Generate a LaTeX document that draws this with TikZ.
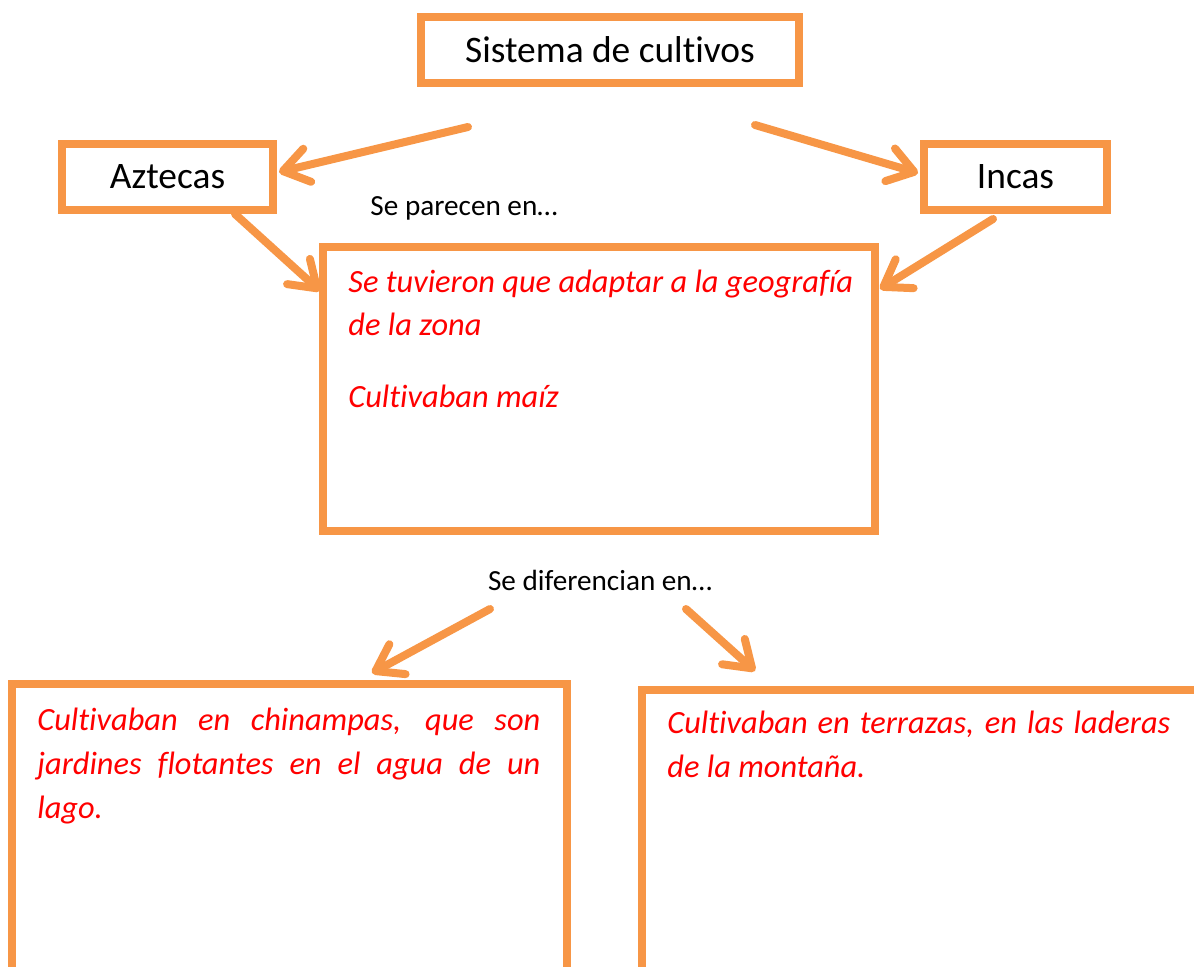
\documentclass[tikz,border=0pt]{standalone}
\usepackage{fontspec}
\setmainfont{Carlito}[Ligatures=NoCommon]
\usetikzlibrary{arrows.meta}
\definecolor{orng}{HTML}{F79646}
\definecolor{txtred}{HTML}{FF0000}
\tikzset{
  obox/.style={draw=orng, line width=4pt, inner sep=0pt, minimum width=#1},
  arr/.style={draw=orng, line width=4pt, line cap=round, -{Straight Barb[length=12.5pt,width=17pt,round]}},
  bigtxt/.style={font=\fontsize{18.7}{22}\selectfont, inner sep=0pt},
  smalltxt/.style={font=\fontsize{14.6}{18}\selectfont, inner sep=0pt},
  redtxt/.style={font=\fontsize{16.2}{22}\selectfont\itshape, text=txtred, inner sep=0pt},
}
\begin{document}
\begin{tikzpicture}[x=0.5pt,y=-0.5pt]
\useasboundingbox (0,0) rectangle (1194,967);
\clip (0,0) rectangle (1194,967);
% boxes
\node[obox=189pt, minimum height=33pt, bigtxt] (sis) at (610,50) {Sistema de cultivos};
\node[obox=105.5pt, minimum height=33pt, bigtxt] (azt) at (167.5,177) {Aztecas};
\node[obox=91.5pt, minimum height=33pt, bigtxt] (inc) at (1015.5,177) {Incas};
\node[obox=276pt, minimum height=142pt] (mid) at (599,389) {};
\node[obox=277.5pt, minimum height=153pt] (bl) at (289.5,837) {};
\node[obox=281.5pt, minimum height=150pt] (br) at (923.5,840) {};
% labels
\node[smalltxt] (par) at (464,208) {Se parecen en…};
\node[smalltxt] (dif) at (600,580) {Se diferencian en…};
% texts
\node[redtxt, anchor=base west] (t1a) at (348,293) {Se tuvieron que adaptar a la geografía};
\node[redtxt, anchor=base west] (t1b) at (348,336) {de la zona};
\node[redtxt, anchor=base west] (t1c) at (348,408) {Cultivaban maíz};
\node[redtxt, anchor=base west, text width=251.5pt, align=justify] (t2) at (37,730) {Cultivaban en chinampas, que son\linebreak jardines flotantes en el agua de un\linebreak lago.};
\node[redtxt, anchor=base west, text width=251.5pt, align=justify] (t3) at (667,733) {Cultivaban en terrazas, en las laderas\linebreak de la montaña.};
% arrow endpoints
\coordinate (s1) at (468,127);
\coordinate (e1) at (279,172);
\coordinate (s2) at (755,125);
\coordinate (e2) at (918,173);
\coordinate (s3) at (235,214);
\coordinate (e3) at (320,291);
\coordinate (s4) at (993,219);
\coordinate (e4) at (880,289);
\coordinate (s5) at (490,609);
\coordinate (e5) at (372,673);
\coordinate (s6) at (686,609);
\coordinate (e6) at (755,671);
\draw[arr] (s1) -- (e1);
\draw[arr] (s2) -- (e2);
\draw[arr] (s3) -- (e3);
\draw[arr] (s4) -- (e4);
\draw[arr] (s5) -- (e5);
\draw[arr] (s6) -- (e6);
\end{tikzpicture}
\end{document}
